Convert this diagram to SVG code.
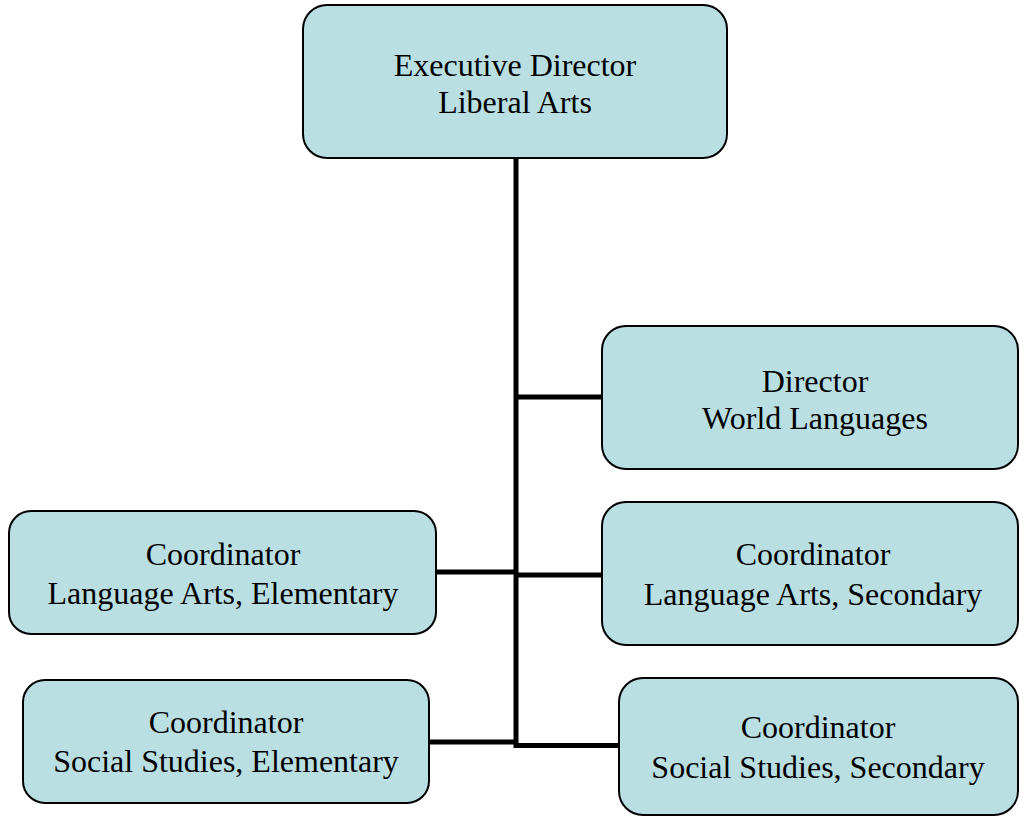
<svg xmlns="http://www.w3.org/2000/svg" width="1020" height="816" viewBox="0 0 1020 816">
<style>
.box{fill:#b9dfe3;stroke:#000;stroke-width:2}
.t{font-family:"Liberation Serif","Times New Roman",serif;font-size:32px;fill:#000;text-anchor:middle}
.c{stroke:#000;stroke-width:5;fill:none}
</style>
<rect width="1020" height="816" fill="#fff"/>
<g id="connectors">
<line class="c" x1="516" y1="158" x2="516" y2="748"/>
<line class="c" x1="514" y1="397" x2="602" y2="397"/>
<line class="c" x1="436" y1="572" x2="516" y2="572"/>
<line class="c" x1="514" y1="575" x2="602" y2="575"/>
<line class="c" x1="429" y1="742" x2="516" y2="742"/>
<line class="c" x1="514" y1="745.5" x2="619" y2="745.5"/>
</g>
<g id="exec">
<rect class="box" x="303" y="5" width="424" height="153" rx="24"/>
<text class="t" x="515" y="76">Executive Director</text>
<text class="t" x="515" y="113">Liberal Arts</text>
</g>
<g id="dir-wl">
<rect class="box" x="602" y="326" width="416" height="143" rx="24"/>
<text class="t" x="815" y="392">Director</text>
<text class="t" x="815" y="429">World Languages</text>
</g>
<g id="coord-la-elem">
<rect class="box" x="9" y="511" width="427" height="123" rx="22"/>
<text class="t" x="223" y="565">Coordinator</text>
<text class="t" x="223" y="604">Language Arts, Elementary</text>
</g>
<g id="coord-la-sec">
<rect class="box" x="602" y="502" width="416" height="143" rx="24"/>
<text class="t" x="813" y="565">Coordinator</text>
<text class="t" x="813" y="605">Language Arts, Secondary</text>
</g>
<g id="coord-ss-elem">
<rect class="box" x="23" y="680" width="406" height="123" rx="22"/>
<text class="t" x="226" y="733">Coordinator</text>
<text class="t" x="226" y="772">Social Studies, Elementary</text>
</g>
<g id="coord-ss-sec">
<rect class="box" x="619" y="678" width="399" height="137" rx="24"/>
<text class="t" x="818" y="738">Coordinator</text>
<text class="t" x="818" y="778">Social Studies, Secondary</text>
</g>
</svg>
